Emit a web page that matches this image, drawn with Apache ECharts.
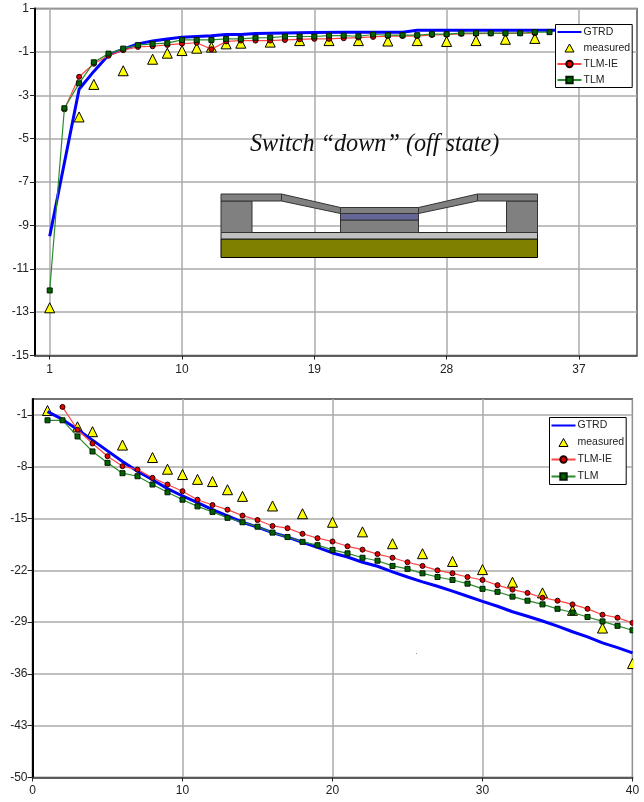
<!DOCTYPE html>
<html><head><meta charset="utf-8">
<style>html,body{margin:0;padding:0;background:#fff}#c{width:644px;height:802px}</style>
<script src="https://cdn.jsdelivr.net/npm/echarts@6/dist/echarts.min.js"></script>
</head><body><div id="c"></div>
<script>
const topXTicks=[1,10,19,28,37];
const topYTicks=[1,-1,-3,-5,-7,-9,-11,-13,-15];
const botXTicks=[0,10,20,30,40];
const botYTicks=[-1,-8,-15,-22,-29,-36,-43,-50];

const topGtrdX=[1,3,4,5,6,7,8,9,10,11,12,13,14,15,17,19,21,22,25,26,36];
const topGtrdY=[-9.5,-2.72,-1.9,-1.14,-0.88,-0.63,-0.5,-0.41,-0.32,-0.29,-0.26,-0.2,-0.2,-0.15,-0.13,-0.11,-0.09,-0.09,-0.09,0,0];
const topMeasX=[1,3,4,6,8,9,10,11,12,13,14,16,18,20,22,24,26,28,30,32,34];
const topMeasY=[-12.8,-4,-2.5,-1.87,-1.34,-1.06,-0.94,-0.83,-0.78,-0.63,-0.6,-0.55,-0.48,-0.48,-0.48,-0.5,-0.48,-0.52,-0.48,-0.42,-0.38];
const topIeX=[2,3,4,5,6,7,8,9,10,11,12,13,14,15,16,17,18,19,20,21,22,23,24,25,26,27,28,29,30,31,32,33,34];
const topIeY=[-3.65,-2.15,-1.55,-1.18,-0.92,-0.77,-0.74,-0.68,-0.62,-0.58,-0.88,-0.52,-0.48,-0.48,-0.48,-0.45,-0.42,-0.4,-0.4,-0.37,-0.34,-0.31,-0.27,-0.27,-0.27,-0.22,-0.21,-0.17,-0.16,-0.15,-0.15,-0.14,-0.14];
const topTlmX=[1,2,3,4,5,6,7,8,9,10,11,12,13,14,15,16,17,18,19,20,21,22,23,24,25,26,27,28,29,30,31,32,33,34,35];
const topTlmY=[-12,-3.6,-2.45,-1.48,-1.08,-0.85,-0.69,-0.63,-0.6,-0.45,-0.45,-0.45,-0.4,-0.4,-0.35,-0.34,-0.29,-0.29,-0.29,-0.25,-0.25,-0.28,-0.2,-0.23,-0.23,-0.23,-0.18,-0.18,-0.14,-0.14,-0.14,-0.14,-0.14,-0.09,-0.09];

const botGtrdX=[1,2,3,4,5,6,7,8,9,10,11,12,13,14,15,16,17,18,19,20,21,22,23,24,25,26,27,28,29,30,31,32,33,34,35,36,37,38,39,40];
const botGtrdY=[-0.55,-1.6,-2.95,-4.4,-5.85,-7.3,-8.6,-9.75,-10.95,-11.95,-12.85,-13.8,-14.65,-15.5,-16.15,-16.9,-17.5,-18.2,-18.9,-19.65,-20.2,-20.9,-21.45,-22.2,-22.9,-23.55,-24.15,-24.8,-25.5,-26.2,-26.85,-27.6,-28.2,-28.85,-29.55,-30.3,-31,-31.8,-32.45,-33.15];
const botMeasX=[1,3,4,6,8,9,10,11,12,13,14,16,18,20,22,24,26,28,30,32,34,36,38,40];
const botMeasY=[-0.4,-2.6,-3.26,-5.07,-6.75,-8.33,-9.05,-9.7,-10,-11.1,-12,-13.3,-14.35,-15.5,-16.8,-18.4,-19.75,-20.8,-21.9,-23.6,-25.05,-27.4,-29.8,-34.6];
const botIeX=[2,3,4,5,6,7,8,9,10,11,12,13,14,15,16,17,18,19,20,21,22,23,24,25,26,27,28,29,30,31,32,33,34,35,36,37,38,39,40];
const botIeY=[0.09,-3,-4.85,-6.57,-7.92,-8.38,-9.5,-10.4,-11.3,-12.45,-13.17,-13.8,-14.6,-15.2,-16,-16.3,-17.06,-17.65,-18.1,-18.75,-19.2,-19.8,-20.3,-20.9,-21.4,-22,-22.4,-22.9,-23.3,-24,-24.6,-25.05,-25.7,-26.1,-26.6,-27.2,-28,-28.4,-29.1];
const botTlmX=[1,2,3,4,5,6,7,8,9,10,11,12,13,14,15,16,17,18,19,20,21,22,23,24,25,26,27,28,29,30,31,32,33,34,35,36,37,38,39,40];
const botTlmY=[-1.72,-1.72,-3.9,-5.93,-7.47,-8.87,-9.28,-10.4,-11.45,-12.45,-13.35,-14.1,-14.9,-15.5,-16.1,-16.9,-17.5,-18.15,-18.6,-19.24,-19.7,-20.3,-20.7,-21.4,-21.8,-22.4,-22.9,-23.3,-23.8,-24.5,-24.9,-25.55,-26.1,-26.6,-27.2,-27.7,-28.3,-28.9,-29.5,-30.1];

const FONT='"Liberation Sans"';
const zip=(xs,ys)=>xs.map((x,i)=>[x,ys[i]]);
function xAxis(idx,min,max,ticks,margin){return {type:'value',gridIndex:idx,min,max,
  axisLine:{show:true,onZero:false,lineStyle:{color:'#444',width:1.5}},
  axisTick:{show:true,length:4,customValues:ticks,lineStyle:{color:'#222'}},
  axisLabel:{customValues:ticks,color:'#222',fontFamily:FONT,fontSize:12,margin,showMinLabel:true,showMaxLabel:true},
  splitLine:{show:true,lineStyle:{color:'#ababab',width:1.5}}};}
function yAxis(idx,min,max,ticks,margin){return {type:'value',gridIndex:idx,min,max,
  axisLine:{show:true,onZero:false,lineStyle:{color:'#000',width:2}},
  axisTick:{show:true,length:5,customValues:ticks,lineStyle:{color:'#222'}},
  axisLabel:{customValues:ticks,color:'#222',fontFamily:FONT,fontSize:12,margin,showMinLabel:true,showMaxLabel:true},
  splitLine:{show:true,lineStyle:{color:'#ababab',width:1.5}}};}
function seriesFor(idx,g,m,ie,t){const c={type:'line',xAxisIndex:idx,yAxisIndex:idx,animation:false,clip:true};return [
  {...c,name:'GTRD',data:g,showSymbol:false,symbol:'none',color:'#0000ff',lineStyle:{color:'#0000ff',width:3},z:3},
  {...c,name:'measured',data:m,symbol:'triangle',symbolSize:[10,10],color:'#ffff00',
    lineStyle:{width:0,opacity:0},itemStyle:{color:'#ffff00',borderColor:'#000',borderWidth:1},z:2},
  {...c,name:'TLM-IE',data:ie,symbol:'circle',symbolSize:5,color:'#ff0000',
    lineStyle:{color:'#f44',width:1.2},itemStyle:{color:'#e00000',borderColor:'#200',borderWidth:1},z:4},
  {...c,name:'TLM',data:t,symbol:'rect',symbolSize:5,color:'#007000',
    lineStyle:{color:'#2c8c2c',width:1.2},itemStyle:{color:'#006400',borderColor:'#001a00',borderWidth:1},z:5}];}
const triIcon='path://M7.5,8L12,0L16.5,8Z M0,4L0,4 M24,4L24,4';
function legend(left,top,gap,pad){return {left,top,orient:'vertical',itemWidth:24,itemHeight:8,itemGap:gap,padding:[pad,2,pad,1],
  backgroundColor:'#fff',borderColor:'#000',borderWidth:1,z:20,selectedMode:false,align:'left',
  textStyle:{fontFamily:FONT,fontSize:10.5,color:'#222',padding:[0,0,0,-3]},
  data:[{name:'GTRD',itemStyle:{opacity:0}},{name:'measured',icon:triIcon,itemStyle:{color:'#ffff00',borderColor:'#000',borderWidth:1}},{name:'TLM-IE'},{name:'TLM'}]};}
const s='#333';
const rect=(x,y,w,h,fill,stroke)=>({type:'rect',shape:{x,y,width:w,height:h},style:{fill,stroke:stroke||s,lineWidth:1},z:8});
const poly=(pts,fill)=>({type:'polygon',shape:{points:pts},style:{fill,stroke:s,lineWidth:1},z:8});
const chart=echarts.init(document.getElementById('c'),null,{renderer:'canvas'});
chart.setOption({animation:false,backgroundColor:'#fff',
 grid:[{left:35,top:8.5,width:602,height:347,show:true,borderColor:'#555',borderWidth:1.5,backgroundColor:'#fff'},
       {left:32.5,top:399,width:600,height:378.5,show:true,borderColor:'#444',borderWidth:1.5,backgroundColor:'#fff'}],
 xAxis:[xAxis(0,0,40.95,topXTicks,8),xAxis(1,0,40,botXTicks,7)],
 yAxis:[yAxis(0,-15,1,topYTicks,6),yAxis(1,-50,1.16,botYTicks,5)],
 legend:[legend(555.5,24.5,5,2),legend(549.5,417.5,6,2.5)],
 series:[...seriesFor(0,zip(topGtrdX,topGtrdY),zip(topMeasX,topMeasY),zip(topIeX,topIeY),zip(topTlmX,topTlmY)),
         ...seriesFor(1,zip(botGtrdX,botGtrdY),zip(botMeasX,botMeasY),zip(botIeX,botIeY),zip(botTlmX,botTlmY))],
 graphic:[
  {type:'text',x:250,y:133,z:9,style:{text:'Switch \u201cdown\u201d (off state)',fontFamily:'"Liberation Serif"',fontStyle:'italic',fontSize:24.2,fill:'#111'}},
  rect(221,239,316.5,18.5,'#808000','#000'),
  rect(221,232.5,316.5,6.5,'#c0c0c0','#222'),
  rect(221,201,31,31.5,'#808080'),
  rect(506.5,201,31,31.5,'#808080'),
  rect(221,194,60.5,7,'#808080'),
  rect(477.5,194,60,7,'#808080'),
  rect(340.5,220,78,12.5,'#808080'),
  rect(340.5,213.5,78,6.5,'#666699'),
  rect(340.5,207.5,78,6,'#808080'),
  poly([[281.5,194],[340.5,207.5],[340.5,213.5],[281.5,201]],'#808080'),
  poly([[418.5,207.5],[477.5,194],[477.5,201],[418.5,213.5]],'#808080'),
  {type:'rect',shape:{x:416,y:653,width:1,height:1},style:{fill:'#999'},z:9},
  {type:'rect',shape:{x:633.2,y:398,width:11,height:379},style:{fill:'#fff'},z:30}
 ]});
</script></body></html>
